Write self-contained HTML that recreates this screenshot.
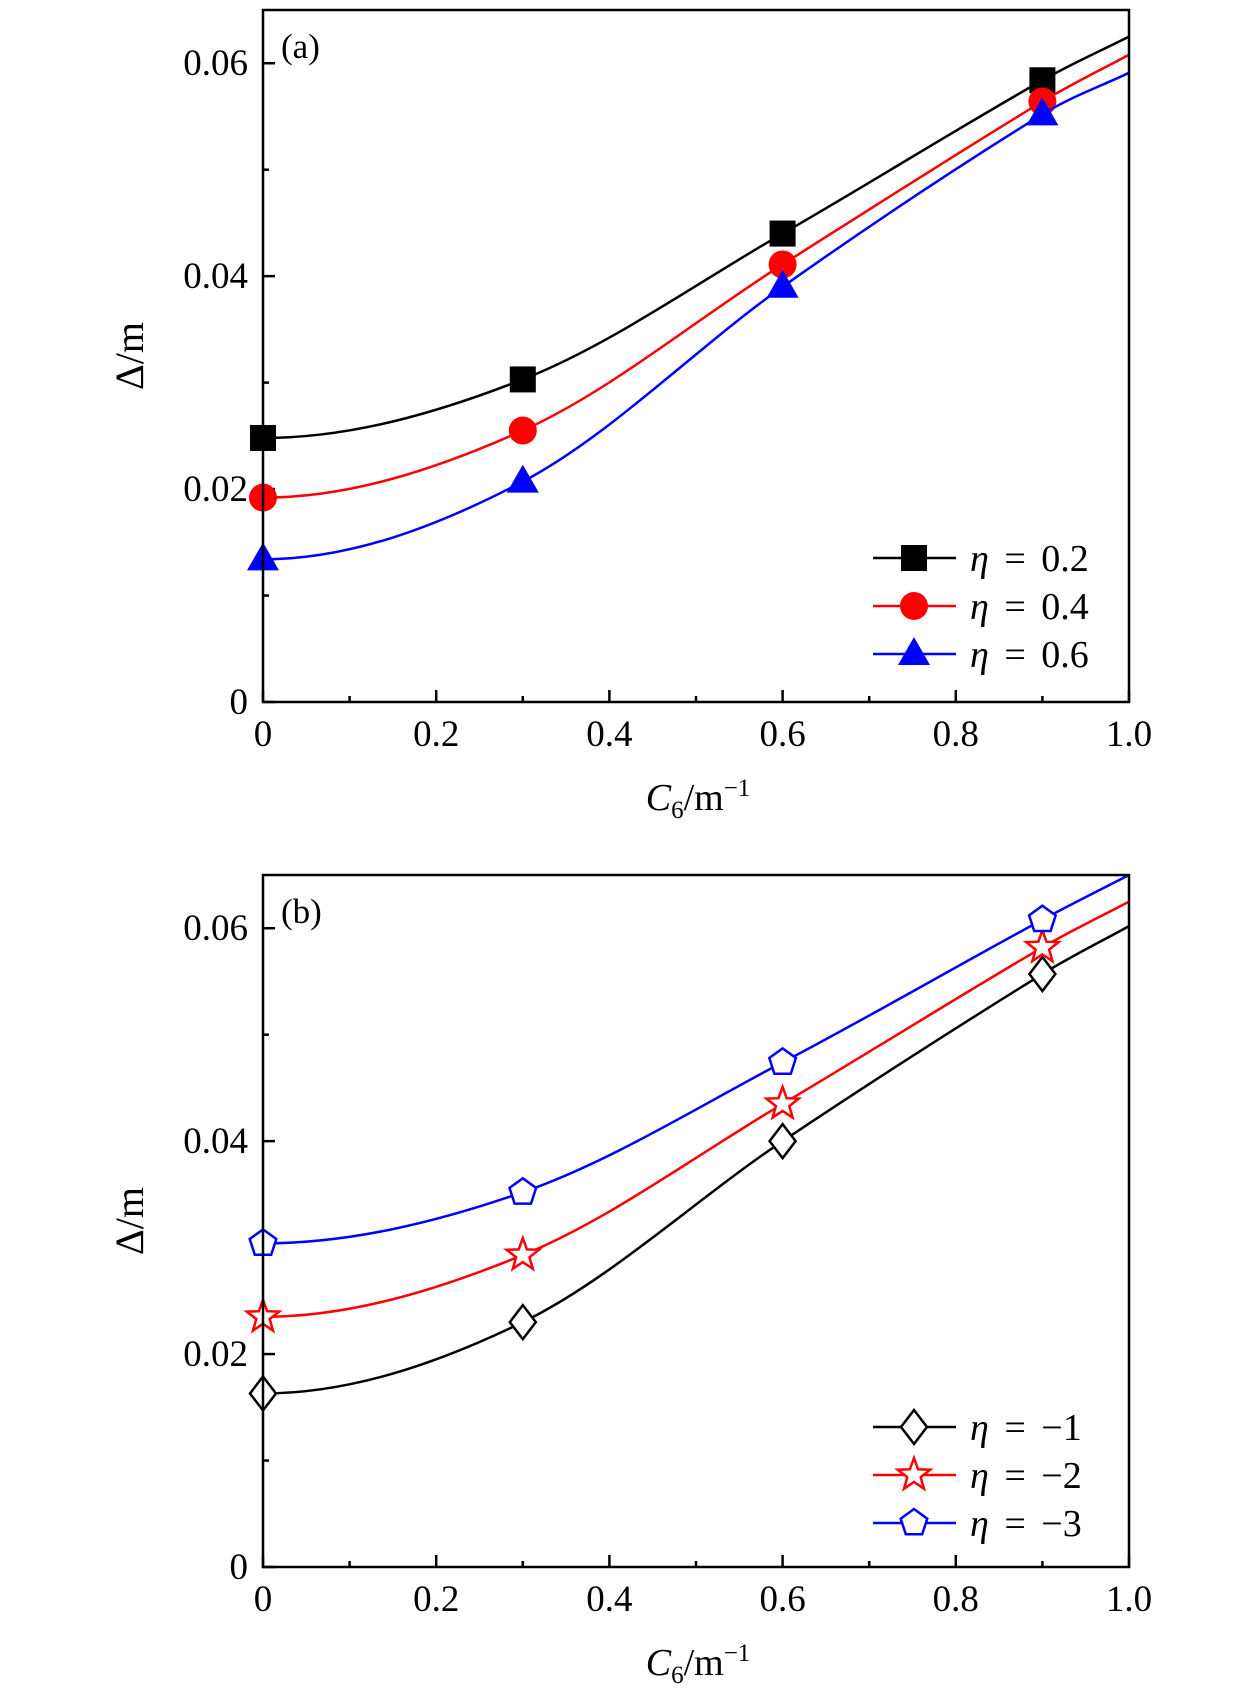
<!DOCTYPE html>
<html><head><meta charset="utf-8"><style>
html,body{margin:0;padding:0;background:#fff;}
svg{display:block;font-family:"Liberation Serif",serif;}
</style></head><body>
<svg id="fig" width="1260" height="1701" viewBox="0 0 1260 1701"></svg>
<script>
const xCats = [0, 0.3, 0.6, 0.9, 1.0];
const xTicks = [0, 0.2, 0.4, 0.6, 0.8, 1.0];
const xTickLabels = ["0", "0.2", "0.4", "0.6", "0.8", "1.0"];
const yTicks = [0, 0.02, 0.04, 0.06];
const yTickLabels = ["0", "0.02", "0.04", "0.06"];
const aEta02 = [0.0248, 0.0303, 0.0440, 0.0584, 0.0625];
const aEta04 = [0.0192, 0.0255, 0.0411, 0.0564, 0.0608];
const aEta06 = [0.0134, 0.0207, 0.0390, 0.0552, 0.0591];
const bEtaM1 = [0.0163, 0.0230, 0.0400, 0.0557, 0.0602];
const bEtaM2 = [0.0235, 0.0293, 0.0435, 0.0582, 0.0625];
const bEtaM3 = [0.0304, 0.0352, 0.0474, 0.0608, 0.0650];
const legendA = ["η = 0.2", "η = 0.4", "η = 0.6"];
const legendB = ["η = −1", "η = −2", "η = −3"];

const NS = "http://www.w3.org/2000/svg";
const svg = document.getElementById("fig");
function mk(tag, attrs, parent) {
  const e = document.createElementNS(NS, tag);
  for (const k in attrs) e.setAttribute(k, attrs[k]);
  (parent || svg).appendChild(e);
  return e;
}
const L = 263, R = 1129, H = 692, YMAX = 0.065;

function markerShape(g, type, cx, cy, color) {
  let e;
  if (type === "square") e = mk("rect", {x: cx-13, y: cy-13, width: 26, height: 26, fill: color}, g);
  else if (type === "circle") e = mk("circle", {cx: cx, cy: cy, r: 14, fill: color}, g);
  else if (type === "triangle") e = mk("polygon", {points: `${cx},${cy-17} ${cx+16},${cy+11} ${cx-16},${cy+11}`, fill: color}, g);
  else if (type === "diamond") e = mk("polygon", {points: `${cx},${cy-17} ${cx+13},${cy} ${cx},${cy+17} ${cx-13},${cy}`, fill: "#fff", stroke: color, "stroke-width": 2.5}, g);
  else if (type === "star") {
    let p = [];
    for (let i = 0; i < 10; i++) { const r = i % 2 ? 7 : 17; const a = -Math.PI/2 + i*Math.PI/5; p.push((cx + r*Math.cos(a)).toFixed(1) + "," + (cy + r*Math.sin(a)).toFixed(1)); }
    e = mk("polygon", {points: p.join(" "), fill: "#fff", stroke: color, "stroke-width": 2.5}, g);
  } else {
    let p = [];
    for (let i = 0; i < 5; i++) { const a = -Math.PI/2 + i*2*Math.PI/5; p.push((cx + 14*Math.cos(a)).toFixed(1) + "," + (cy + 14*Math.sin(a)).toFixed(1)); }
    e = mk("polygon", {points: p.join(" "), fill: "#fff", stroke: color, "stroke-width": 2.5}, g);
  }
  return e;
}

function curvePath(xs, ys, sx, sy) {
  const n = xs.length, m = [];
  for (let i = 0; i < n; i++) {
    if (i === 0) m.push(0);
    else if (i === n-1) m.push((ys[i]-ys[i-1])/(xs[i]-xs[i-1]));
    else m.push((ys[i+1]-ys[i-1])/(xs[i+1]-xs[i-1]));
  }
  let d = `M${sx(xs[0])},${sy(ys[0])}`;
  for (let i = 0; i < n-1; i++) {
    const h = xs[i+1]-xs[i];
    const c1x = xs[i]+h/3, c1y = ys[i]+m[i]*h/3;
    const c2x = xs[i+1]-h/3, c2y = ys[i+1]-m[i+1]*h/3;
    d += ` C${sx(c1x)},${sy(c1y)} ${sx(c2x)},${sy(c2y)} ${sx(xs[i+1])},${sy(ys[i+1])}`;
  }
  return d;
}

function panel(top, tag, series, colors, markers, labels, legTop) {
  const B = top + H;
  const sx = v => L + v*(R-L);
  const sy = v => B - v/YMAX*H;
  const g = mk("g", {});
  
  
  for (let i = 0; i <= 10; i++) {
    const x = sx(i/10), len = i % 2 === 0 ? 12 : 6;
    const t = mk("line", {x1: x, y1: B, x2: x, y2: B-len, stroke: "#000", "stroke-width": 2.5}, g);
    
    
  }
  for (let i = 0; i <= 6; i++) {
    const y = sy(i*0.01), len = i % 2 === 0 ? 12 : 6;
    const t = mk("line", {x1: L, y1: y, x2: L+len, y2: y, stroke: "#000", "stroke-width": 2.5}, g);
    
    
  }
  xTicks.forEach((v, i) => {
    const t = mk("text", {x: sx(v), y: B+44, "font-size": 37, "text-anchor": "middle"}, g);
    t.textContent = xTickLabels[i];
    
    
  });
  yTicks.forEach((v, i) => {
    const t = mk("text", {x: 248, y: sy(v)+12, "font-size": 37, "text-anchor": "end"}, g);
    t.textContent = yTickLabels[i];
    
    
  });
  series.forEach((ys, si) => {
    const sg = mk("g", {}, g);
    
    
    mk("path", {d: curvePath(xCats, ys, sx, sy), fill: "none", stroke: colors[si], "stroke-width": 2.5}, sg);
    for (let i = 0; i < 4; i++) {
      const mEl = markerShape(sg, markers[si], sx(xCats[i]), sy(ys[i]), colors[si]);
      
      
    }
    const lg = mk("g", {}, g);
    
    
    const ly = legTop + si*48;
    mk("line", {x1: 873, y1: ly, x2: 956, y2: ly, stroke: colors[si], "stroke-width": 2.5}, lg);
    markerShape(lg, markers[si], 914, ly, colors[si]);
    const lt = mk("text", {x: 970, y: ly+13, "font-size": 38, "word-spacing": "6"}, lg);
    lt.innerHTML = '<tspan font-style="italic">η</tspan>' + labels[si].slice(1);
  });
  const f = mk("rect", {x: L, y: top, width: R-L, height: H, fill: "none", stroke: "#000", "stroke-width": 2.5}, g);
  
  
  const pl = mk("text", {x: 281, y: top+48, "font-size": 35}, g);
  pl.textContent = "(" + tag + ")";
  
  
  const yt = mk("text", {x: 0, y: 0, "font-size": 40, "text-anchor": "middle", transform: `translate(143,${top+346}) rotate(-90)`}, g);
  yt.textContent = "Δ/m";
  
  
  const xt = mk("text", {x: 698, y: B+108, "font-size": 38, "text-anchor": "middle"}, g);
  xt.innerHTML = '<tspan font-style="italic">C</tspan><tspan font-size="25" dy="8">6</tspan><tspan dy="-8">/m</tspan><tspan font-size="25" dy="-14">−1</tspan>';
  
  
}
panel(10, "a", [aEta02, aEta04, aEta06], ["#000", "#f00", "#00f"], ["square", "circle", "triangle"], legendA, 558);
panel(875, "b", [bEtaM1, bEtaM2, bEtaM3], ["#000", "#f00", "#00f"], ["diamond", "star", "pentagon"], legendB, 1427);
</script>
</body></html>
